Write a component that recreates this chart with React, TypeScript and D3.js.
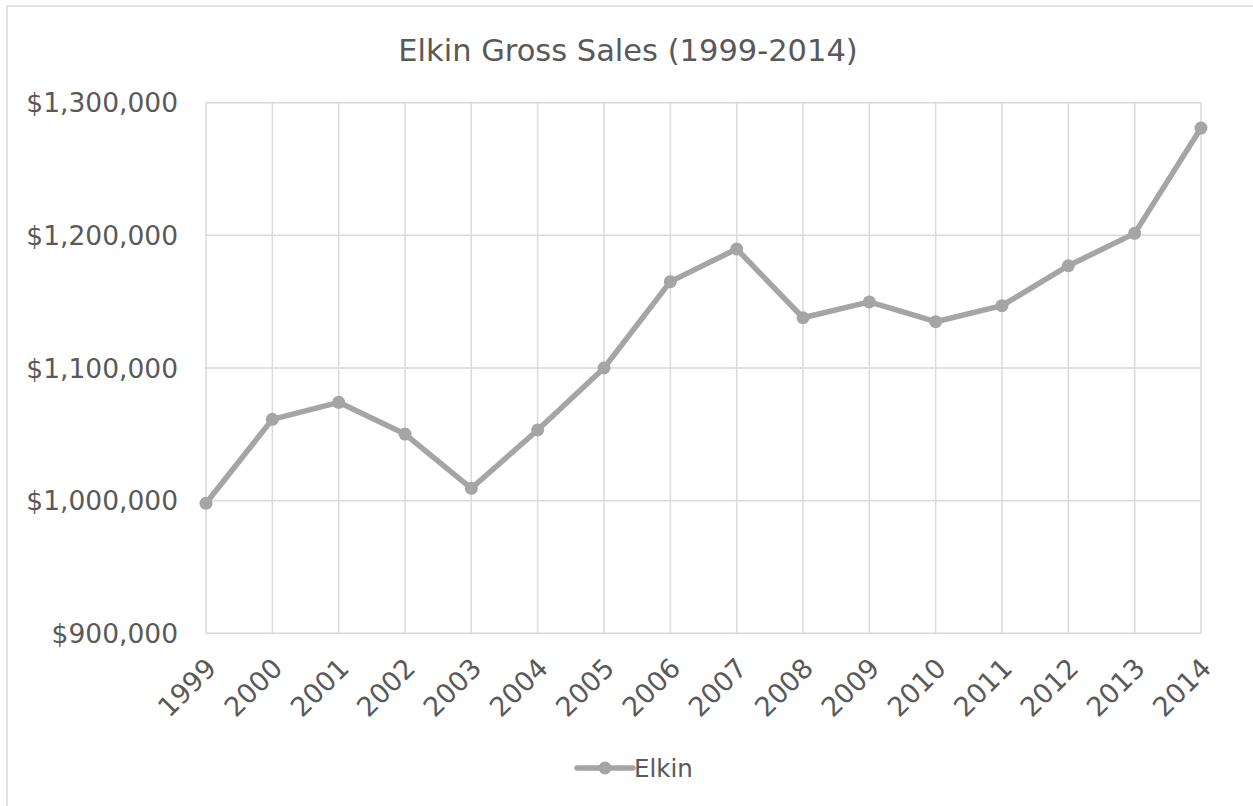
import React from "react";
import * as d3 from "d3";

const years: string[] = ["1999","2000","2001","2002","2003","2004","2005","2006","2007","2008","2009","2010","2011","2012","2013","2014"];
const sales: number[] = [998000,1061300,1074100,1050200,1009300,1053300,1100000,1165100,1189700,1137900,1149800,1134900,1147000,1177100,1201500,1280900];
const yTicks: number[] = [900000,1000000,1100000,1200000,1300000];
const seriesName = "Elkin";
const title = "Elkin Gross Sales (1999-2014)";

const W = 1253, H = 806;
const FONT = "'DejaVu Sans', sans-serif";
const TEXT = "#595959";
const GRID = "#D9D9D9";
const LINE = "#A5A5A5";

export default function App() {
  const left = 206, right = 1201, top = 102.7, bottom = 633.3;
  const x = d3.scalePoint<string>().domain(years).range([left, right]);
  const y = d3.scaleLinear().domain([900000, 1300000]).range([bottom, top]);
  const line = d3.line<number>().x((_, i) => x(years[i]) as number).y(d => y(d));
  const fmt = (v: number) => "$" + d3.format(",")(v);
  return (
    <svg width={W} height={H} style={{ position: "absolute", left: 0, top: 0, background: "#fff" }}>
      <rect x={0} y={0} width={W} height={H} fill="#fff" />
      <rect x={7} y={6} width={1300} height={900} fill="none" stroke={GRID} strokeWidth={1.5} />
      <text x={628} y={61} textAnchor="middle" fontFamily={FONT} fontSize={30.5} fill={TEXT}>{title}</text>
      {yTicks.map(t => (
        <line key={"h" + t} x1={left} x2={right} y1={y(t)} y2={y(t)} stroke={GRID} strokeWidth={1.5} />
      ))}
      {years.map(yr => (
        <line key={"v" + yr} x1={x(yr)} x2={x(yr)} y1={top} y2={bottom} stroke={GRID} strokeWidth={1.5} />
      ))}
      {yTicks.map(t => (
        <text key={"yl" + t} x={178} y={y(t)} dy="0.36em" textAnchor="end" fontFamily={FONT} fontSize={26.5} fill={TEXT}>{fmt(t)}</text>
      ))}
      {years.map(yr => (
        <text key={"xl" + yr} transform={`translate(${(x(yr) as number) + 5},${663}) rotate(-45)`} textAnchor="end" dy="0.36em" fontFamily={FONT} fontSize={27} fill={TEXT}>{yr}</text>
      ))}
      <path d={line(sales) || ""} fill="none" stroke={LINE} strokeWidth={5.5} strokeLinejoin="round" />
      {sales.map((v, i) => (
        <circle key={"c" + i} cx={x(years[i])} cy={y(v)} r={6.5} fill={LINE} />
      ))}
      <line x1={577} x2={633} y1={768} y2={768} stroke={LINE} strokeWidth={5.5} strokeLinecap="round" />
      <circle cx={605} cy={768} r={6.5} fill={LINE} />
      <text x={634} y={768} dy="0.36em" fontFamily={FONT} fontSize={24.5} fill={TEXT}>{seriesName}</text>
    </svg>
  );
}
